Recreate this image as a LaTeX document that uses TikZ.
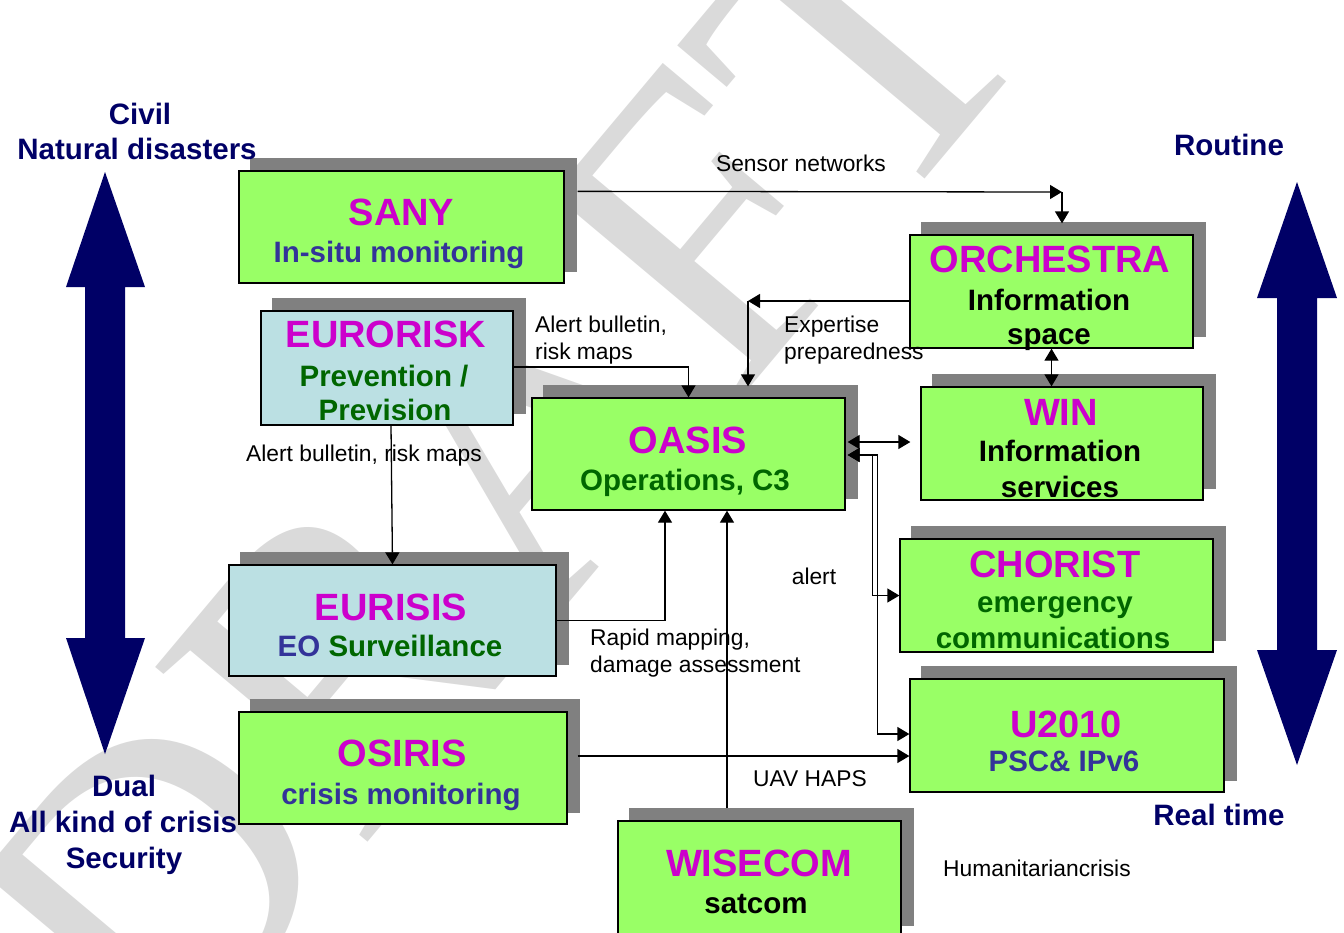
\documentclass[tikz,border=0pt]{standalone}
\usepackage{fontspec}
\setmainfont{Liberation Sans}
\newfontfamily\wmfont{Liberation Serif}
\usetikzlibrary{arrows.meta,calc}
\definecolor{boxgreen}{HTML}{99FF66}
\definecolor{boxcyan}{HTML}{BBE0E3}
\definecolor{shgray}{HTML}{808080}
\definecolor{ttlcol}{HTML}{CC00CC}
\definecolor{subblue}{HTML}{333399}
\definecolor{subgreen}{HTML}{006600}
\definecolor{navy}{HTML}{000066}
\definecolor{wmgray}{HTML}{DADADA}
\pgfdeclarelayer{wmlayer}
\pgfdeclarelayer{shlayer}
\pgfsetlayers{wmlayer,shlayer,main}
\tikzset{
  pbox/.style={draw=black, line width=1.3pt, inner sep=0pt},
  ttl/.style={font=\fontsize{38}{40}\selectfont\bfseries, text=ttlcol, anchor=base, inner sep=0pt},
  sub/.style={font=\fontsize{29.5}{32}\selectfont\bfseries, anchor=base, inner sep=0pt},
  side/.style={font=\fontsize{29.5}{32}\selectfont\bfseries, text=navy, anchor=base, inner sep=0pt},
  lbl/.style={font=\fontsize{22.8}{26}\selectfont, text=black, anchor=base, inner sep=0pt},
  lblw/.style={lbl, anchor=base west},
  arr/.style={line width=1.3pt, -{Triangle[length=12pt,width=14pt]}},
  darr/.style={line width=1.3pt, {Triangle[length=12pt,width=14pt]}-{Triangle[length=12pt,width=14pt]}},
  bigarrow/.style={fill=navy, draw=none}
}
\begin{document}
\begin{tikzpicture}[x=1pt,y=-1pt]
\useasboundingbox (0,0) rectangle (1344,932);

% watermark
\begin{pgfonlayer}{wmlayer}
\node[rotate=50, text=wmgray, font=\wmfont\fontsize{420}{420}\selectfont, inner sep=0pt] (wm) at (500,470) {DRAFT};
\end{pgfonlayer}

% boxes
\node[pbox, fill=boxgreen, minimum width=325pt, minimum height=112pt] (sany) at (401.5,227) {};
\node[pbox, fill=boxcyan, minimum width=252pt, minimum height=114pt] (eurorisk) at (387,368) {};
\node[pbox, fill=boxgreen, minimum width=313pt, minimum height=112pt] (oasis) at (688.5,454) {};
\node[pbox, fill=boxgreen, minimum width=283pt, minimum height=113pt] (orch) at (1051.5,291.5) {};
\node[pbox, fill=boxgreen, minimum width=282pt, minimum height=113pt] (win) at (1062,443.5) {};
\node[pbox, fill=boxgreen, minimum width=313pt, minimum height=113pt] (chorist) at (1056.5,595.5) {};
\node[pbox, fill=boxgreen, minimum width=314pt, minimum height=113pt] (u2010) at (1067,735.5) {};
\node[pbox, fill=boxcyan, minimum width=327pt, minimum height=111pt] (eurisis) at (392.5,620.5) {};
\node[pbox, fill=boxgreen, minimum width=328pt, minimum height=112pt] (osiris) at (403,768) {};
\node[pbox, fill=boxgreen, minimum width=283pt, minimum height=116pt] (wisecom) at (759.5,879) {};

\begin{pgfonlayer}{shlayer}
\foreach \b in {sany,eurorisk,oasis,orch,win,chorist,u2010,eurisis,osiris,wisecom}{
  \fill[shgray] ($(\b.south west)+(12,-12)$) rectangle ($(\b.north east)+(12,-12)$);
}
\end{pgfonlayer}

% box texts
\node[ttl] (sany-t) at (401.5,225) {SANY};
\node[sub, text=subblue] (sany-s) at (399,262) {In-situ monitoring};
\node[ttl] (eurorisk-t) at (386,347) {EURORISK};
\node[sub, text=subgreen] (eurorisk-s1) at (384,386) {Prevention /};
\node[sub, text=subgreen] (eurorisk-s2) at (385,420) {Prevision};
\node[ttl] (oasis-t) at (688,453) {OASIS};
\node[sub, text=subgreen] (oasis-s) at (685,490) {Operations, C3};
\node[ttl] (orch-t) at (1050,272) {ORCHESTRA};
\node[sub, text=black] (orch-s1) at (1049,310) {Information};
\node[sub, text=black] (orch-s2) at (1049,344) {space};
\node[ttl] (win-t) at (1061,425) {WIN};
\node[sub, text=black] (win-s1) at (1060,461) {Information};
\node[sub, text=black] (win-s2) at (1060,497) {services};
\node[ttl] (chorist-t) at (1055,577) {CHORIST};
\node[sub, text=subgreen] (chorist-s1) at (1055,612) {emergency};
\node[sub, text=subgreen] (chorist-s2) at (1053,648) {communications};
\node[ttl] (u2010-t) at (1066,737) {U2010};
\node[sub, text=subblue] (u2010-s) at (1064,771) {PSC\&~IPv6};
\node[ttl] (eurisis-t) at (391,620) {EURISIS};
\node[sub] (eurisis-s) at (390,656) {\textcolor{subblue}{EO} \textcolor{subgreen}{Surveillance}};
\node[ttl] (osiris-t) at (402,766) {OSIRIS};
\node[sub, text=subblue] (osiris-s) at (401,804) {crisis monitoring};
\node[ttl] (wisecom-t) at (759,876) {WISECOM};
\node[sub, text=black] (wisecom-s) at (756,913) {satcom};

% side labels
\node[side] (civil1) at (140,124) {Civil};
\node[side] (civil2) at (137,159) {Natural disasters};
\node[side] (routine) at (1229,155) {Routine};
\node[side] (dual1) at (124,796) {Dual};
\node[side] (dual2) at (123,832) {All kind of crisis};
\node[side] (dual3) at (124,868) {Security};
\node[side] (realtime) at (1219,825) {Real time};

% big arrows
\fill[bigarrow] (105,172) -- (145,287) -- (125,287) -- (125,638) -- (145,638) -- (105,754)
  -- (66,638) -- (85,638) -- (85,287) -- (66,287) -- cycle;
\fill[bigarrow] (1297,182) -- (1337,298) -- (1317,298) -- (1317,650) -- (1337,650) -- (1297,765)
  -- (1257,650) -- (1277,650) -- (1277,298) -- (1257,298) -- cycle;

% connectors
\coordinate (s1) at (1062,192);
\draw[arr] ($(sany.north east)+(13,21)$) -- (s1);
\draw[arr] (s1) -- ($(s1 |- orch.north)+(0,-11)$);
\node[lbl] (l-sensor) at (801,171) {Sensor networks};

\draw[arr] ($(eurorisk.east)+(0,-1)$) -| (oasis.north);
\node[lblw] (l-ab1) at (535,332) {Alert bulletin,};
\node[lblw] (l-ab2) at (535,359) {risk maps};

\coordinate (c3) at (748,301);
\draw[arr] ($(orch.west)+(0,9.5)$) -- (c3);
\draw[arr] (c3) -- ($(c3 |- oasis.north)+(0,-11)$);
\node[lblw] (l-ex1) at (784,332) {Expertise};
\node[lblw] (l-ex2) at (784,359) {preparedness};

\draw[darr] (orch.south) -- (orch.south |- win.north);
\draw[darr] ($(oasis.east)+(2,-12)$) -- ($(win.west)+(-10,-1.5)$);

\coordinate (a0) at ($(oasis.east)+(2,1)$);
\draw[darr] (a0) -- ++(25,0) |- (chorist.west);
\draw[darr] (a0) -- ++(30,0) |- ($(u2010.west)+(0,-1.5)$);
\node[lbl] (l-alert) at (814,584) {alert};

\draw[arr] ($(eurorisk.south)+(4,0)$) -- (eurisis.north);
\node[lbl] (l-ab3) at (364,461) {Alert bulletin, risk maps};

\draw[arr] (eurisis.east) -| ($(oasis.south)+(-23.5,0)$);
\node[lblw] (l-rm1) at (590,645) {Rapid mapping,};
\node[lblw] (l-rm2) at (590,672) {damage assessment};

\draw[arr] ($(wisecom.north)+(-32.5,-12)$) -- ($(oasis.south)+(38.5,0)$);

\draw[arr] ($(osiris.east)+(10,-12)$) -- ($(u2010.west)+(0,20.5)$);
\node[lbl] (l-uav) at (810,786) {UAV HAPS};

\node[lblw] (l-hum) at (943,876) {Humanitariancrisis};
\end{tikzpicture}
\end{document}
